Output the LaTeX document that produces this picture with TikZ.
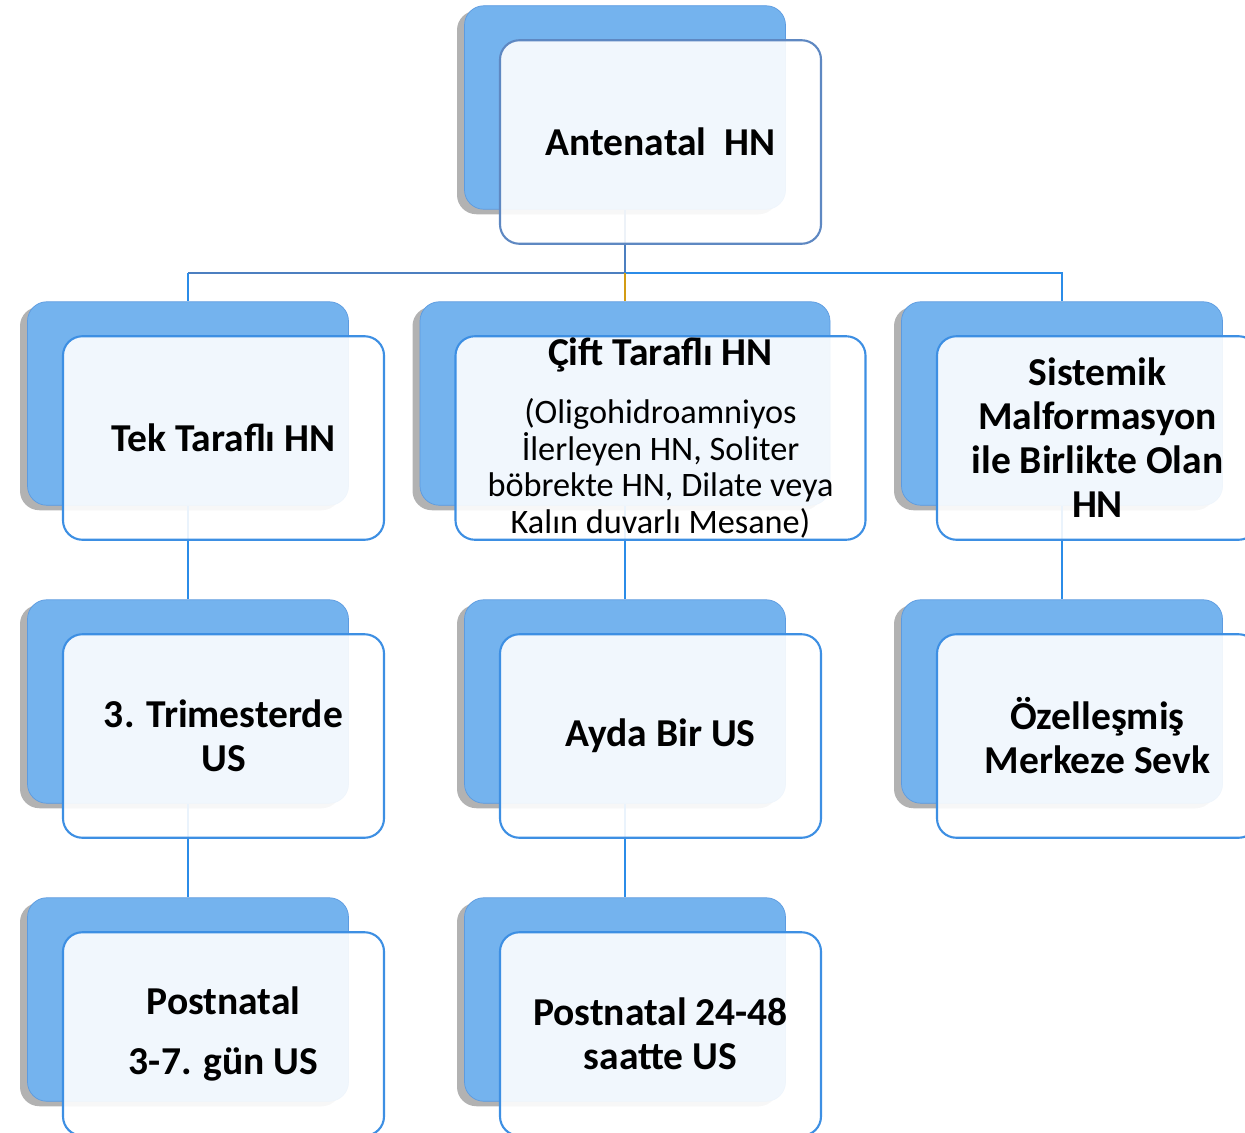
\documentclass[tikz,border=0pt]{standalone}
\usepackage{fontspec}
\setmainfont{Carlito}
\usetikzlibrary{positioning, calc, shadows}
\definecolor{backblue}{HTML}{74B3EE}
\definecolor{backline}{HTML}{5C9BE0}
\definecolor{frontline}{HTML}{3D8FE3}
\definecolor{rootline}{HTML}{5E88C2}
\definecolor{busdark}{HTML}{4C7FC0}
\definecolor{buslight}{HTML}{2B8CE8}
\definecolor{busgold}{HTML}{D39C14}
\newcommand{\headtxt}{\fontsize{22.5}{25}\selectfont\bfseries}

\begin{document}
\begin{tikzpicture}[
  backbox/.style={rectangle, draw=backline, fill=backblue, rounded corners=11pt, minimum width=6.42cm, minimum height=4.07cm, drop shadow={shadow xshift=-0.15cm, shadow yshift=-0.1cm, opacity=0.3, fill=black}},
  frontbox/.style={rectangle, draw=frontline, line width=1.2pt, fill=white, fill opacity=0.9, text opacity=1, rounded corners=11pt, minimum width=6.42cm, minimum height=4.07cm, align=center, font=\headtxt},
  link/.style={draw=buslight, line width=1.6pt},
  darklink/.style={draw=busdark, line width=1.6pt},
  goldlink/.style={draw=busgold, line width=1.6pt}
]
  \useasboundingbox (0,0) rectangle (24.9,-22.66);

  % Back boxes
  \node[backbox] (rootB) at (12.5,-2.15) {};
  \node[backbox] (tekB)  at (3.76,-8.07) {};
  \node[backbox, minimum width=8.2cm] (ciftB) at (12.5,-8.07) {};
  \node[backbox] (sisB)  at (21.24,-8.07) {};
  \node[backbox] (triB)  at (3.76,-14.03) {};
  \node[backbox] (aydaB) at (12.5,-14.03) {};
  \node[backbox] (sevkB) at (21.24,-14.03) {};
  \node[backbox] (postB) at (3.76,-19.99) {};
  \node[backbox] (saatB) at (12.5,-19.99) {};

  % Connectors
  \coordinate (bus) at (12.5,-5.46);
  \draw[darklink] (rootB.south) -- (bus);
  \draw[darklink] (bus) -- (tekB.north |- bus);
  \draw[link] (tekB.north |- bus) -- (tekB.north);
  \draw[link] (bus) -- (sisB.north |- bus) -- (sisB.north);
  \draw[goldlink] (bus) -- (ciftB.north);
  \draw[link] (tekB.south) -- (triB.north);
  \draw[link] (triB.south) -- (postB.north);
  \draw[link] (ciftB.south) -- (aydaB.north);
  \draw[link] (aydaB.south) -- (saatB.north);
  \draw[link] (sisB.south) -- (sevkB.north);

  % Front boxes
  \node[frontbox, draw=rootline] (rootF) at ([shift={(0.71,-0.69)}]rootB.center) {Antenatal~~HN};
  \node[frontbox] (tekF) at ([shift={(0.71,-0.69)}]tekB.center) {Tek Taraflı HN};
  \node[frontbox, minimum width=8.2cm, inner sep=0pt, font=\fontsize{19.5}{21}\selectfont] (ciftF) at ([shift={(0.71,-0.69)}]ciftB.center)
    {\headtxt Çift Taraflı HN\\[12pt](Oligohidroamniyos\\İlerleyen HN, Soliter\\böbrekte HN, Dilate veya\\Kalın duvarlı Mesane)};
  \node[frontbox] (sisF) at ([shift={(0.71,-0.69)}]sisB.center) {Sistemik\\Malformasyon\\ile Birlikte Olan\\HN};
  \node[frontbox] (triF) at ([shift={(0.71,-0.69)}]triB.center) {3. Trimesterde\\US};
  \node[frontbox] (aydaF) at ([shift={(0.71,-0.69)}]aydaB.center) {Ayda Bir US};
  \node[frontbox] (sevkF) at ([shift={(0.71,-0.69)}]sevkB.center) {Özelleşmiş\\Merkeze Sevk};
  \node[frontbox] (postF) at ([shift={(0.71,-0.69)}]postB.center) {Postnatal\\[9pt]3-7. gün US};
  \node[frontbox] (saatF) at ([shift={(0.71,-0.69)}]saatB.center) {Postnatal 24-48\\saatte US};
\end{tikzpicture}
\end{document}
